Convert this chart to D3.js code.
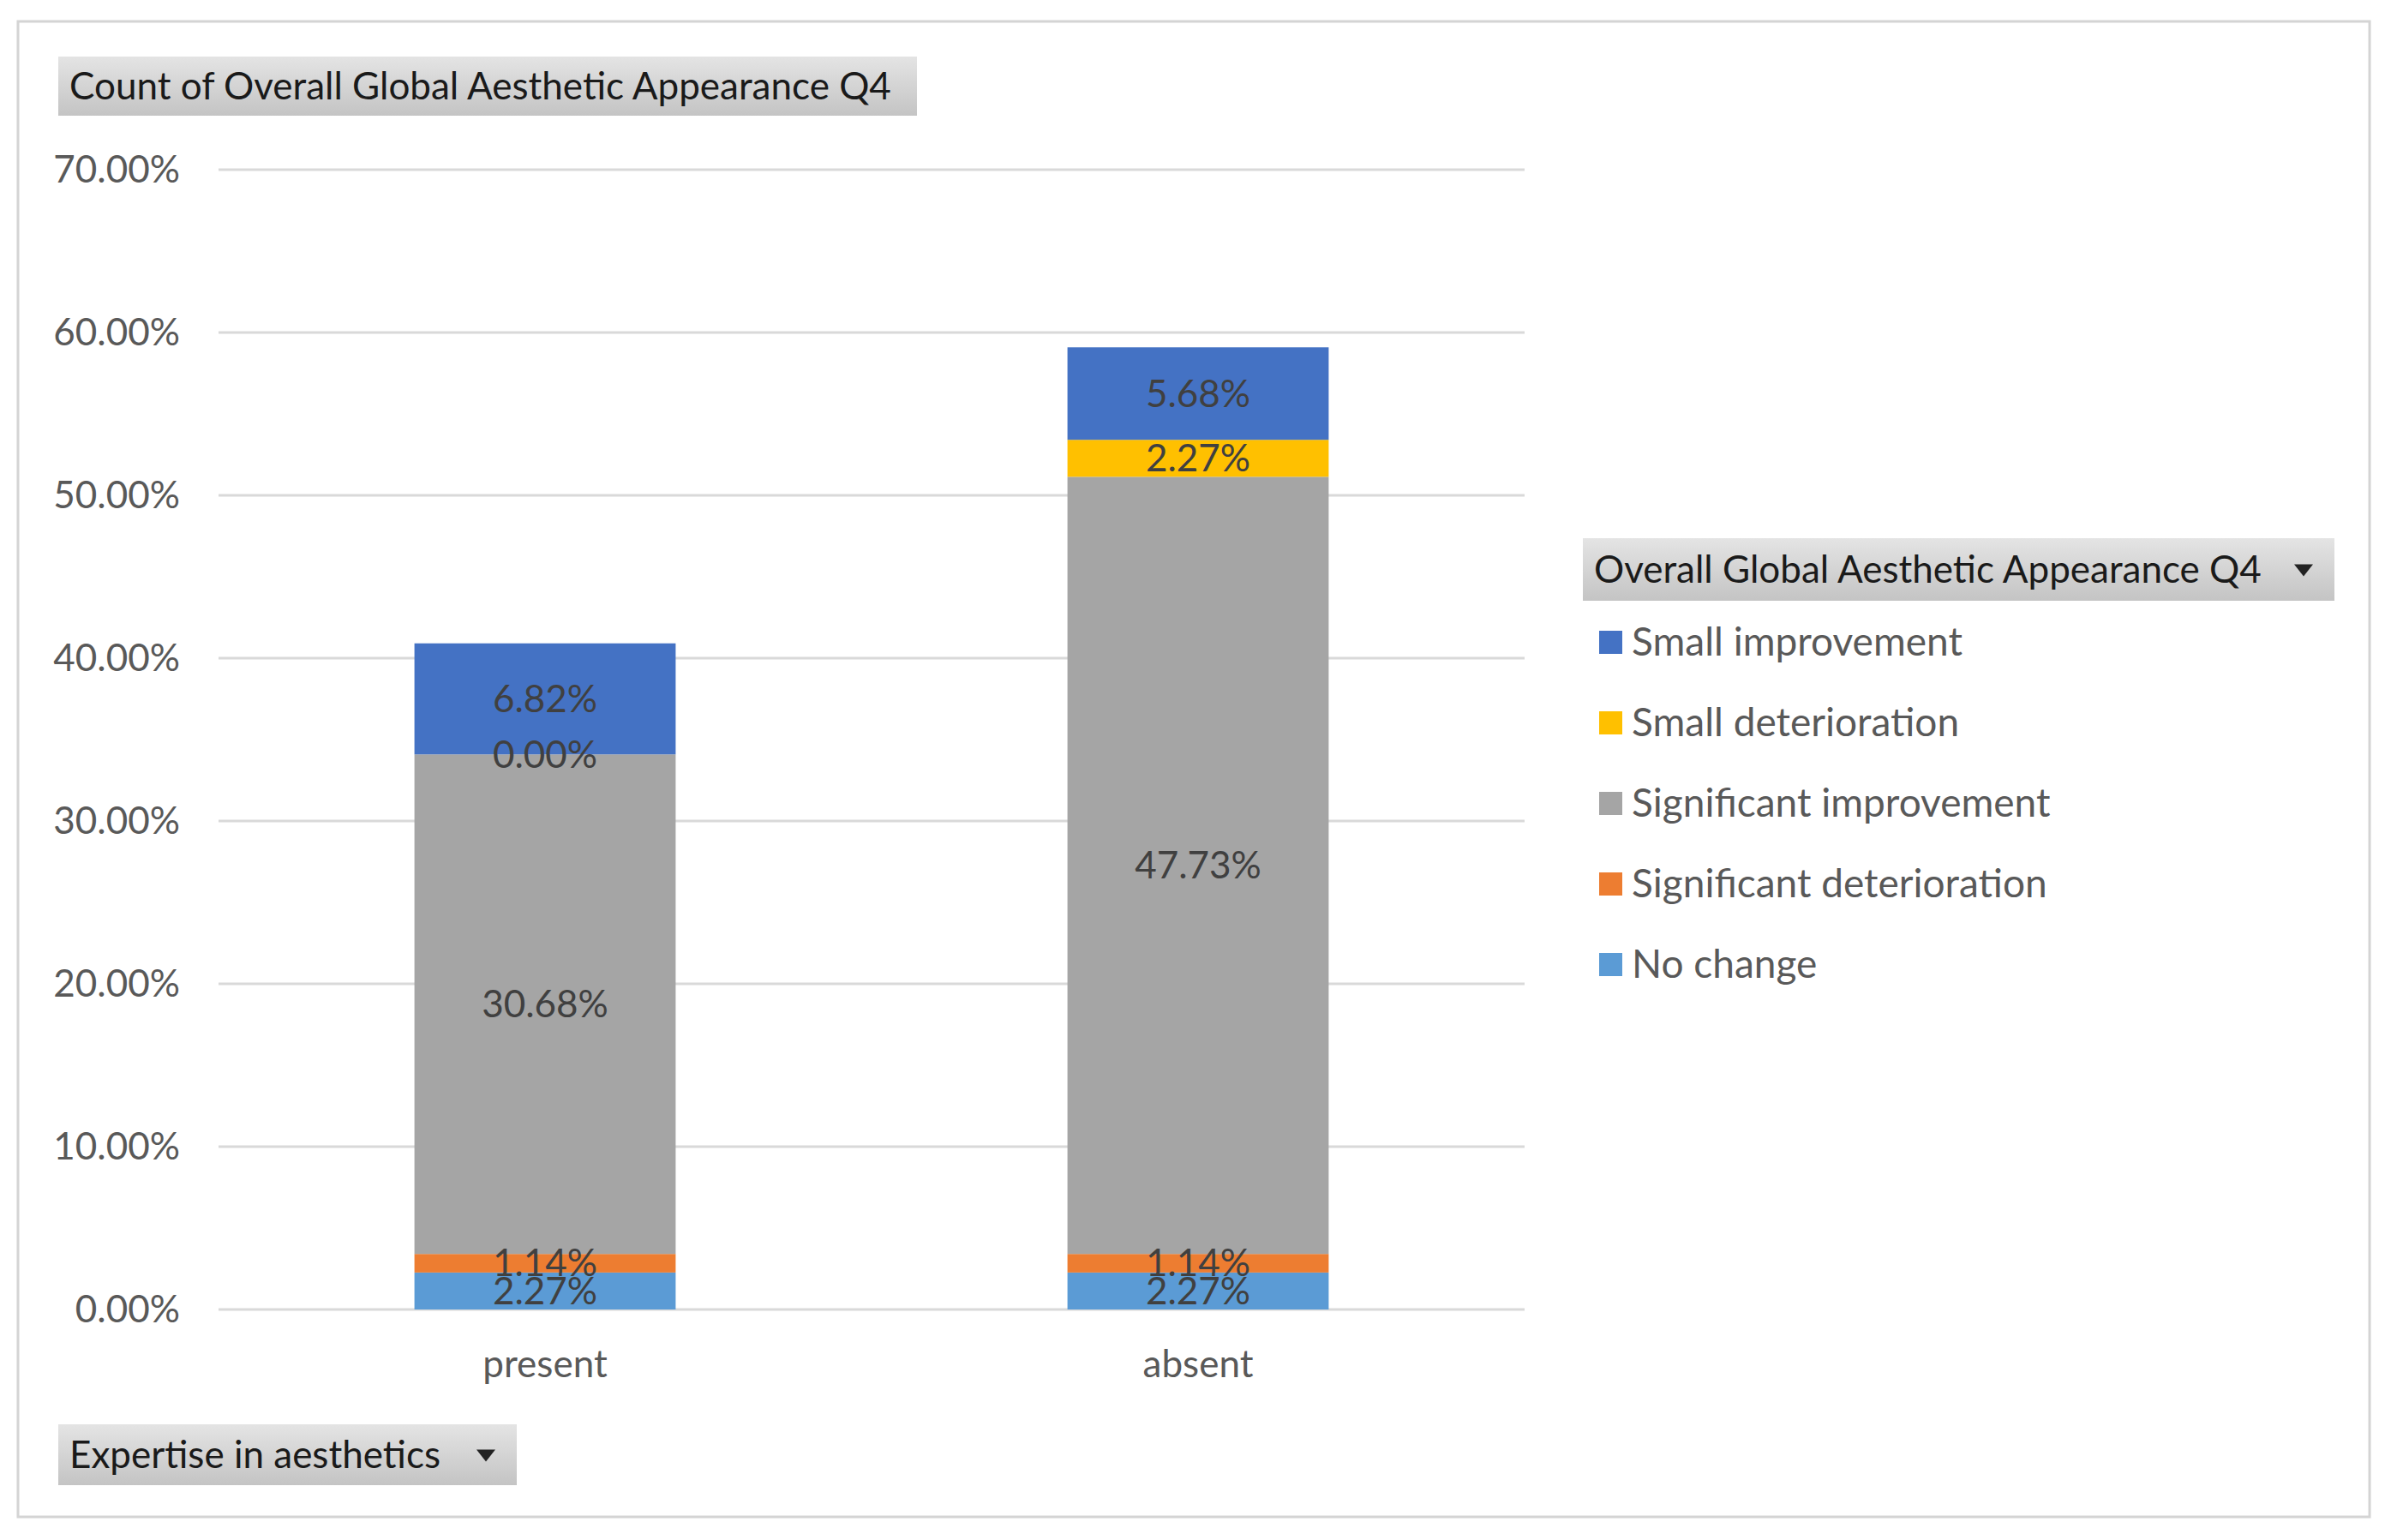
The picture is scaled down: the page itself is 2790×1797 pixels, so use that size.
<!DOCTYPE html>
<html>
<head>
<meta charset="utf-8">
<script src="https://cdn.jsdelivr.net/npm/d3@7"></script>
<style>
  body { margin: 0; background: #fff; }
  text { font-family: Lato, "Open Sans", sans-serif; }
</style>
</head>
<body>
<div id="chart"></div>
<script>
// dades
let categories = ['present', 'absent']
let series = ['No change', 'Significant deterioration', 'Significant improvement', 'Small deterioration', 'Small improvement']
let noChange = [2.27, 2.27]
let sigDeterioration = [1.14, 1.14]
let sigImprovement = [30.68, 47.73]
let smallDeterioration = [0.00, 2.27]
let smallImprovement = [6.82, 5.68]
let yTicks = [0, 10, 20, 30, 40, 50, 60, 70]
let colors = ['#5B9BD5', '#ED7D31', '#A5A5A5', '#FFC000', '#4472C4']
let legendOrder = ['Small improvement', 'Small deterioration', 'Significant improvement', 'Significant deterioration', 'No change']

let titleText = 'Count of Overall Global Aesthetic Appearance Q4'
let legendTitle = 'Overall Global Aesthetic Appearance Q4'
let axisButton = 'Expertise in aesthetics'

let W = 2790
let H = 1797
let fontSz = 44

let taula = categories.map((c, i) => ({
  cat: c,
  'No change': noChange[i],
  'Significant deterioration': sigDeterioration[i],
  'Significant improvement': sigImprovement[i],
  'Small deterioration': smallDeterioration[i],
  'Small improvement': smallImprovement[i]
}))

let svg = d3.select('#chart')
  .append('svg')
  .attr('width', W)
  .attr('height', H)

// degradat dels botons
let defs = svg.append('defs')
let grad = defs.append('linearGradient')
  .attr('id', 'boto')
  .attr('x1', 0).attr('y1', 0).attr('x2', 0).attr('y2', 1)
grad.append('stop').attr('offset', '0%').attr('stop-color', '#e4e4e4')
grad.append('stop').attr('offset', '100%').attr('stop-color', '#c4c4c4')

svg.append('rect')
  .attr('x', 21).attr('y', 25)
  .attr('width', 2744).attr('height', 1745)
  .attr('fill', '#fff')
  .attr('stroke', '#d4d4d4')
  .attr('stroke-width', 3)

let x = d3.scaleBand()
  .domain(categories)
  .range([255, 1779])
  .paddingInner(0.6)
  .paddingOuter(0.3)

let y = d3.scaleLinear()
  .domain([0, 70])
  .range([1528, 198])

// línies de la graella
svg.append('g')
  .selectAll('line')
  .data(yTicks)
  .enter()
  .append('line')
  .attr('x1', 255)
  .attr('x2', 1779)
  .attr('y1', d => y(d))
  .attr('y2', d => y(d))
  .attr('stroke', '#d9d9d9')
  .attr('stroke-width', 3)

svg.append('g')
  .selectAll('text')
  .data(yTicks)
  .enter()
  .append('text')
  .attr('x', 210)
  .attr('y', d => y(d))
  .attr('dy', '0.35em')
  .attr('text-anchor', 'end')
  .attr('font-size', fontSz)
  .attr('fill', '#595959')
  .text(d => d.toFixed(2) + '%')

// barres apilades
let stack = d3.stack().keys(series)(taula)

let capes = svg.append('g')
  .selectAll('g')
  .data(stack)
  .enter()
  .append('g')
  .attr('fill', (_, i) => colors[i])

capes.selectAll('rect')
  .data(d => d)
  .enter()
  .append('rect')
  .attr('x', d => x(d.data.cat))
  .attr('width', x.bandwidth())
  .attr('y', d => y(d[1]))
  .attr('height', d => y(d[0]) - y(d[1]))

// etiquetes (com a l'original, les petites se solapen)
let etiquetes = svg.append('g')
stack.forEach(s => {
  etiquetes.selectAll(null)
    .data(s)
    .enter()
    .append('text')
    .attr('x', d => x(d.data.cat) + x.bandwidth() / 2)
    .attr('y', d => y((d[0] + d[1]) / 2))
    .attr('dy', '0.35em')
    .attr('text-anchor', 'middle')
    .attr('font-size', fontSz)
    .attr('fill', '#404040')
    .text(d => (d[1] - d[0]).toFixed(2) + '%')
})

svg.append('g')
  .selectAll('text')
  .data(categories)
  .enter()
  .append('text')
  .attr('x', d => x(d) + x.bandwidth() / 2)
  .attr('y', 1592)
  .attr('dy', '0.35em')
  .attr('text-anchor', 'middle')
  .attr('font-size', fontSz)
  .attr('fill', '#595959')
  .text(d => d)

// botons
function boto(bx, by, bw, bh, txt, triX) {
  svg.append('rect')
    .attr('x', bx).attr('y', by)
    .attr('width', bw).attr('height', bh)
    .attr('fill', 'url(#boto)')
  svg.append('text')
    .attr('x', bx + 13)
    .attr('y', by + bh / 2)
    .attr('dy', '0.35em')
    .attr('font-size', fontSz)
    .attr('fill', '#1a1a1a')
    .text(txt)
  if (triX) {
    let cy = by + bh / 2
    svg.append('path')
      .attr('d', `M${triX - 11},${cy - 6} L${triX + 11},${cy - 6} L${triX},${cy + 8} Z`)
      .attr('fill', '#222')
  }
}

boto(68, 66, 1002, 69, titleText, null)
boto(68, 1662, 535, 71, axisButton, 567)
boto(1847, 628, 877, 73, legendTitle, 2688)

// llegenda
let llegenda = svg.append('g')
  .selectAll('g')
  .data(legendOrder)
  .enter()
  .append('g')
  .attr('transform', (d, i) => `translate(1866, ${749 + i * 94})`)

llegenda.append('rect')
  .attr('x', 0)
  .attr('y', -13)
  .attr('width', 27)
  .attr('height', 27)
  .attr('fill', d => colors[series.indexOf(d)])

llegenda.append('text')
  .attr('x', 38)
  .attr('y', 0)
  .attr('dy', '0.35em')
  .attr('font-size', 46)
  .attr('fill', '#595959')
  .text(d => d)
</script>
</body>
</html>
